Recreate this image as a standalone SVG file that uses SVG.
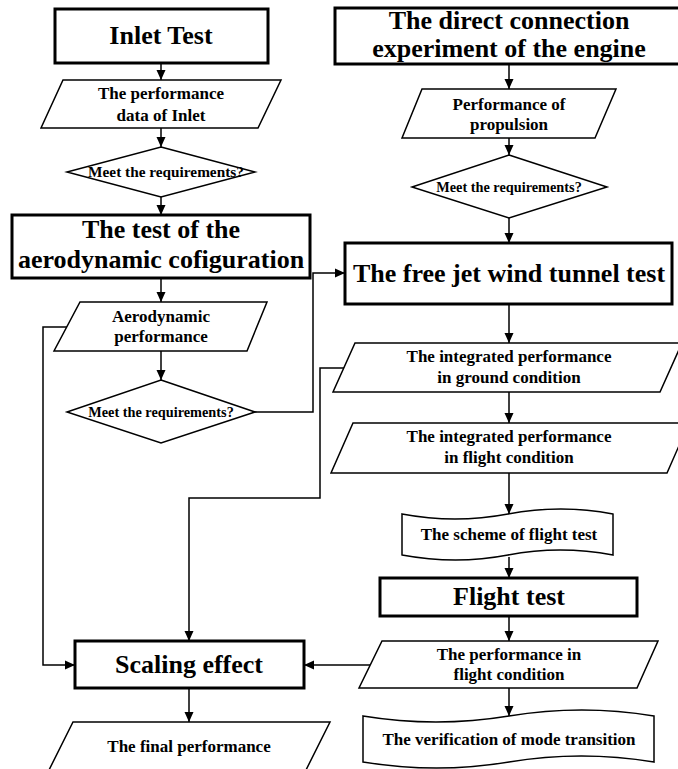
<svg xmlns="http://www.w3.org/2000/svg" width="678" height="769" viewBox="0 0 678 769">
<defs>
<style>
.box{fill:#fff;stroke:#000;stroke-width:3}
.shp{fill:#fff;stroke:#000;stroke-width:1.5}
.ln{fill:none;stroke:#000;stroke-width:1.5}
.big{font-family:"Liberation Serif","Times New Roman",serif;font-weight:bold;font-size:26px;text-anchor:middle;fill:#000}
.sm{font-family:"Liberation Serif","Times New Roman",serif;font-weight:bold;font-size:17px;text-anchor:middle;fill:#000}
.dm{font-family:"Liberation Serif","Times New Roman",serif;font-weight:bold;font-size:14.3px;text-anchor:middle;fill:#000}
</style>
<marker id="ah" markerUnits="userSpaceOnUse" markerWidth="10" markerHeight="10" refX="10" refY="5" orient="auto">
<path d="M0,0.5 L10,5 L0,9.5 z" fill="#000"/>
</marker>
</defs>
<rect width="678" height="769" fill="#fff"/>

<g id="connectors" class="ln" marker-end="url(#ah)">
<path d="M161,63 V80"/>
<path d="M161,128 V147"/>
<path d="M161,197 V215"/>
<path d="M161,278 V302"/>
<path d="M161,351 V380"/>
<path d="M255,412 H313 V273 H345"/>
<path d="M67,327 H43 V665 H75"/>
<path d="M344,368 H320 V498 H189 V641"/>
<path d="M370,665 H304"/>
<path d="M189,688 V722"/>
<path d="M509,64 V89"/>
<path d="M509,138 V155"/>
<path d="M509,218 V243"/>
<path d="M509,304 V343"/>
<path d="M509,392 V423"/>
<path d="M509,473 V514"/>
<path d="M509,557 V578"/>
<path d="M509,616 V641"/>
<path d="M509,688 V716"/>
</g>

<g id="inlet-test">
<rect class="box" x="55" y="9" width="213" height="54"/>
<text class="big" x="161" y="44">Inlet Test</text>
</g>

<g id="inlet-data">
<polygon class="shp" points="63,80 281,80 258,128 41,128"/>
<text class="sm" x="161" y="99">The performance</text>
<text class="sm" x="161" y="121">data of Inlet</text>
</g>

<g id="decision-1">
<polygon class="shp" points="161,147 255,172 161,197 67,172"/>
<text class="dm" x="166" y="177" style="font-size:15.3px">Meet the requirements?</text>
</g>

<g id="aero-test">
<rect class="box" x="12" y="215" width="298" height="63"/>
<text class="big" x="161" y="238">The test of the</text>
<text class="big" x="161" y="268">aerodynamic cofiguration</text>
</g>

<g id="aero-perf">
<polygon class="shp" points="80,302 267,302 247,351 54,351"/>
<text class="sm" x="161" y="322">Aerodynamic</text>
<text class="sm" x="161" y="342">performance</text>
</g>

<g id="decision-3">
<polygon class="shp" points="161,380 255,412 161,443 67,412"/>
<text class="dm" x="161" y="417">Meet the requirements?</text>
</g>

<g id="scaling-effect">
<rect class="box" x="75" y="641" width="229" height="47"/>
<text class="big" x="189" y="673">Scaling effect</text>
</g>

<g id="final-performance">
<polygon class="shp" points="73,722 330,722 296,790 39,790"/>
<text class="sm" x="189" y="752">The final performance</text>
</g>

<g id="direct-connection">
<rect class="box" x="335" y="8" width="350" height="56"/>
<text class="big" x="509" y="29">The direct connection</text>
<text class="big" x="509" y="57">experiment of the engine</text>
</g>

<g id="propulsion-perf">
<polygon class="shp" points="422,89 616,89 595,138 402,138"/>
<text class="sm" x="509" y="110">Performance of</text>
<text class="sm" x="509" y="130">propulsion</text>
</g>

<g id="decision-2">
<polygon class="shp" points="509,155 607,187 509,218 412,187"/>
<text class="dm" x="509" y="192">Meet the requirements?</text>
</g>

<g id="free-jet">
<rect class="box" x="345" y="243" width="327" height="61"/>
<text class="big" x="509" y="282">The free jet wind tunnel test</text>
</g>

<g id="ground-perf">
<polygon class="shp" points="355,343 682,343 660,392 333,392"/>
<text class="sm" x="509" y="362">The integrated performance</text>
<text class="sm" x="509" y="383">in ground condition</text>
</g>

<g id="flight-perf-integrated">
<polygon class="shp" points="353,423 689,423 667,473 331,473"/>
<text class="sm" x="509" y="442">The integrated performance</text>
<text class="sm" x="509" y="463">in flight condition</text>
</g>

<g id="flight-scheme">
<path class="shp" d="M402,514 Q455,524 508,514 T613,514 V555 Q560,545 508,555 T402,555 Z"/>
<text class="sm" x="509" y="540">The scheme of flight test</text>
</g>

<g id="flight-test">
<rect class="box" x="380" y="578" width="257" height="38"/>
<text class="big" x="509" y="605">Flight test</text>
</g>

<g id="flight-perf">
<polygon class="shp" points="382,641 658,641 637,688 359,688"/>
<text class="sm" x="509" y="660">The performance  in</text>
<text class="sm" x="509" y="680">flight condition</text>
</g>

<g id="mode-transition">
<path class="shp" d="M363,716 Q436,728 509,716 T654,716 V762 Q581,750 509,762 T363,762 Z"/>
<text class="sm" x="509" y="745">The verification of mode transition</text>
</g>
</svg>
